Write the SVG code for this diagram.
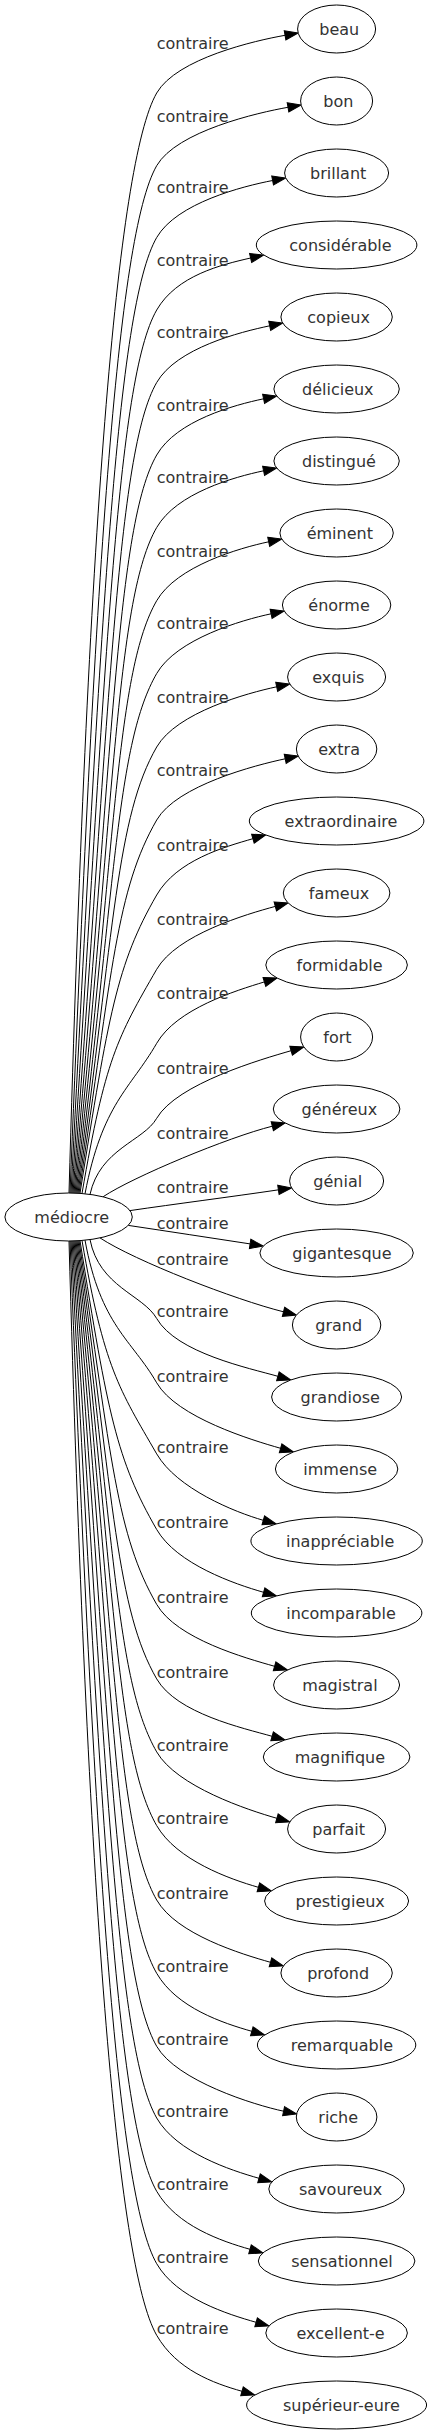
<svg xmlns="http://www.w3.org/2000/svg" width="432" height="2435" viewBox="0 0 432 2435">
<style>
.n ellipse{fill:#fff;stroke:#000;stroke-width:1}
text{font-family:"DejaVu Sans","Liberation Sans",sans-serif;font-size:16px;fill:#333}
#edges path{fill:none;stroke:#000;stroke-width:1;marker-end:url(#ah)}
</style>
<defs>
<marker id="ah" markerUnits="userSpaceOnUse" markerWidth="16" markerHeight="12" viewBox="0 0 16 12" refX="0" refY="6" orient="auto" overflow="visible">
<path d="M0,1.33 L13.3,6 L0,10.67 z" fill="#000" stroke="#000" stroke-width="1"/>
</marker>
</defs>
<rect width="432" height="2435" fill="#fff"/>
<g id="edges">
<path d="M69,1193.2 C87.5,533.1 116.7,162.3 156.7,93 C176.7,58.4 255.5,40.5 285.05,35.3"/>
<path d="M70,1193.2 C94.7,576.7 116.7,235 156.7,165.7 C176.7,131.1 258.45,112.5 288,107.3"/>
<path d="M71,1193.2 C100.8,619.8 116.7,306.8 156.7,237.5 C176.7,202.9 243.1,186.2 272.6,180.5"/>
<path d="M72,1193.2 C105.9,663.3 116.7,379.3 156.7,310 C176.7,275.4 221.4,264.7 250.6,258"/>
<path d="M73,1193.2 C110,706.8 116.7,451.8 156.7,382.5 C176.7,347.9 240.4,332 269.7,325.8"/>
<path d="M74,1193.2 C113,750.3 116.7,524.3 156.7,455 C176.7,420.4 234.3,405 263.6,398.8"/>
<path d="M75,1193.2 C114.9,793.8 116.7,596.8 156.7,527.5 C176.7,492.9 234.3,477 263.6,470.8"/>
<path d="M76,1193.2 C115.8,837.7 116.7,670 156.7,600.7 C176.7,566.1 239.4,548 268.7,541.8"/>
<path d="M77,1193.2 C115.7,881.4 116.7,742.8 156.7,673.5 C176.7,638.9 241.8,620 271.1,613.8"/>
<path d="M78,1193.2 C114.4,925.5 116.7,816.3 156.7,747 C176.7,712.4 247.4,693 276.7,686.8"/>
<path d="M79,1193.2 C112.1,969.3 116.7,889.3 156.7,820 C176.7,785.4 255.9,765 285.2,758.8"/>
<path d="M80,1193.2 C108.6,1014.3 116.7,964.3 156.7,895 C176.7,860.4 224.1,847 252.9,838.7"/>
<path d="M82,1193.5 C105.1,1059 117.45,1037.3 156.7,969.3 C176.7,934.7 246.3,914.2 275.3,906.4"/>
<path d="M85,1193.8 C102.2,1103.5 130.35,1088.9 156.7,1043.3 C176.7,1008.7 235.7,990.7 264.4,981.9"/>
<path d="M90,1194.4 C100,1148.7 143.4,1141.3 156.7,1118.3 C176.7,1083.7 262.3,1059 291.1,1050.7"/>
<path d="M103,1196.8 C133,1176.8 228.65,1137.1 272.3,1126.2"/>
<path d="M130,1210.6 C175,1204 230,1197 278.4,1189.85"/>
<path d="M128.3,1225.4 C170,1231.6 210,1237.8 250.1,1243.9"/>
<path d="M100,1237.9 C135,1260.9 235,1299.7 283.5,1311.8"/>
<path d="M90,1239.6 C99.3,1286.9 142.9,1294.6 156.7,1318.5 C176.7,1353.1 249.1,1368.1 277.9,1376.3"/>
<path d="M85,1240.2 C100.7,1325.8 131.75,1339.6 156.7,1382.8 C176.7,1417.4 251.8,1440.1 280.6,1448.3"/>
<path d="M82,1240.5 C104,1368.5 119.35,1389.2 156.7,1453.9 C176.7,1488.5 234.5,1512.1 263.3,1520.3"/>
<path d="M80,1240.8 C107.7,1414 116.7,1460.2 156.7,1529.5 C176.7,1564.1 234.8,1584.1 263.6,1592.3"/>
<path d="M79,1240.8 C111.3,1459 116.7,1535.1 156.7,1604.4 C176.7,1639 245.8,1658.1 274.6,1666.3"/>
<path d="M78,1240.8 C113.8,1503.7 116.7,1609.6 156.7,1678.9 C176.7,1713.5 243.2,1728.1 272.1,1736.3"/>
<path d="M77,1240.8 C115,1547.5 116.7,1682.6 156.7,1751.9 C176.7,1786.5 248.1,1810.1 276.9,1818.3"/>
<path d="M76,1240.8 C115.3,1591.7 116.7,1756.3 156.7,1825.6 C176.7,1860.2 229.6,1879.1 258.4,1887.3"/>
<path d="M75,1240.8 C114.6,1636.3 116.7,1830.7 156.7,1900 C176.7,1934.6 241.7,1954.1 270.5,1962.3"/>
<path d="M74,1240.8 C112.7,1680.3 116.7,1904 156.7,1973.3 C176.7,2007.9 223,2023.1 251.8,2031.3"/>
<path d="M73,1240.8 C109.7,1724.1 116.7,1977 156.7,2046.3 C176.7,2080.9 254.3,2105 283.6,2111.2"/>
<path d="M72,1240.8 C105.7,1767.1 116.7,2048.7 156.7,2118 C176.7,2152.6 230.1,2170.1 259,2178.3"/>
<path d="M71,1240.8 C100.7,1811.1 116.7,2122 156.7,2191.3 C176.7,2225.9 221.2,2241.1 250,2249.3"/>
<path d="M70,1240.8 C94.5,1854.5 116.7,2194.4 156.7,2263.7 C176.7,2298.3 227.3,2314.1 256.1,2322.3"/>
<path d="M69,1240.8 C87.4,1897.5 116.7,2266 156.7,2335.3 C176.7,2369.9 213.2,2383.1 242,2391.3"/>
<g id="edge-labels">
<text x="156.7" y="48.8">contraire</text>
<text x="156.7" y="121.5">contraire</text>
<text x="156.7" y="193.3">contraire</text>
<text x="156.7" y="265.8">contraire</text>
<text x="156.7" y="338.3">contraire</text>
<text x="156.7" y="410.8">contraire</text>
<text x="156.7" y="483.3">contraire</text>
<text x="156.7" y="556.5">contraire</text>
<text x="156.7" y="629.3">contraire</text>
<text x="156.7" y="702.8">contraire</text>
<text x="156.7" y="775.8">contraire</text>
<text x="156.7" y="850.8">contraire</text>
<text x="156.7" y="925.1">contraire</text>
<text x="156.7" y="999.1">contraire</text>
<text x="156.7" y="1074.1">contraire</text>
<text x="156.7" y="1139.1">contraire</text>
<text x="156.7" y="1192.5">contraire</text>
<text x="156.7" y="1229.1">contraire</text>
<text x="156.7" y="1265.3">contraire</text>
<text x="156.7" y="1317.3">contraire</text>
<text x="156.7" y="1381.6">contraire</text>
<text x="156.7" y="1452.7">contraire</text>
<text x="156.7" y="1528.3">contraire</text>
<text x="156.7" y="1603.2">contraire</text>
<text x="156.7" y="1677.7">contraire</text>
<text x="156.7" y="1750.7">contraire</text>
<text x="156.7" y="1824.4">contraire</text>
<text x="156.7" y="1898.8">contraire</text>
<text x="156.7" y="1972.1">contraire</text>
<text x="156.7" y="2045.1">contraire</text>
<text x="156.7" y="2116.8">contraire</text>
<text x="156.7" y="2190.1">contraire</text>
<text x="156.7" y="2262.5">contraire</text>
<text x="156.7" y="2334.1">contraire</text>
</g>
</g>
<g id="n-mediocre" class="n"><ellipse cx="68.6" cy="1217" rx="63.7" ry="24"/><text x="34.3" y="1223">médiocre</text></g>
<g id="n-beau" class="n"><ellipse cx="336.6" cy="29" rx="39" ry="24"/><text x="319.3" y="35">beau</text></g>
<g id="n-bon" class="n"><ellipse cx="336.6" cy="101" rx="36" ry="24"/><text x="323.3" y="107">bon</text></g>
<g id="n-brillant" class="n"><ellipse cx="336.6" cy="173" rx="52" ry="24"/><text x="310" y="179">brillant</text></g>
<g id="n-considerable" class="n"><ellipse cx="336.6" cy="245" rx="80.3" ry="24"/><text x="289.3" y="251">considérable</text></g>
<g id="n-copieux" class="n"><ellipse cx="336.6" cy="317" rx="55.7" ry="24"/><text x="307.3" y="323">copieux</text></g>
<g id="n-delicieux" class="n"><ellipse cx="336.6" cy="389" rx="62.7" ry="24"/><text x="302" y="395">délicieux</text></g>
<g id="n-distingue" class="n"><ellipse cx="336.6" cy="461" rx="62.7" ry="24"/><text x="302" y="467">distingué</text></g>
<g id="n-eminent" class="n"><ellipse cx="336.6" cy="533" rx="56.7" ry="24"/><text x="306.7" y="539">éminent</text></g>
<g id="n-enorme" class="n"><ellipse cx="336.6" cy="605" rx="54.2" ry="24"/><text x="308.3" y="611">énorme</text></g>
<g id="n-exquis" class="n"><ellipse cx="336.6" cy="677" rx="49" ry="24"/><text x="312.3" y="683">exquis</text></g>
<g id="n-extra" class="n"><ellipse cx="336.6" cy="749" rx="40.2" ry="24"/><text x="318.3" y="755">extra</text></g>
<g id="n-extraordinaire" class="n"><ellipse cx="336.6" cy="821" rx="87.3" ry="24"/><text x="284.6" y="827">extraordinaire</text></g>
<g id="n-fameux" class="n"><ellipse cx="336.6" cy="893" rx="53.3" ry="24"/><text x="308.8" y="899">fameux</text></g>
<g id="n-formidable" class="n"><ellipse cx="336.6" cy="965" rx="70.8" ry="24"/><text x="296.5" y="971">formidable</text></g>
<g id="n-fort" class="n"><ellipse cx="336.6" cy="1037" rx="36" ry="24"/><text x="323.3" y="1043">fort</text></g>
<g id="n-genereux" class="n"><ellipse cx="336.6" cy="1109" rx="63.3" ry="24"/><text x="301.5" y="1115">généreux</text></g>
<g id="n-genial" class="n"><ellipse cx="336.6" cy="1181" rx="47" ry="24"/><text x="313.3" y="1187">génial</text></g>
<g id="n-gigantesque" class="n"><ellipse cx="336.6" cy="1253" rx="76.7" ry="24"/><text x="292.3" y="1259">gigantesque</text></g>
<g id="n-grand" class="n"><ellipse cx="336.6" cy="1325" rx="44.2" ry="24"/><text x="315.3" y="1331">grand</text></g>
<g id="n-grandiose" class="n"><ellipse cx="336.6" cy="1397" rx="65" ry="24"/><text x="300.6" y="1403">grandiose</text></g>
<g id="n-immense" class="n"><ellipse cx="336.6" cy="1469" rx="61.2" ry="24"/><text x="303.3" y="1475">immense</text></g>
<g id="n-inappreciable" class="n"><ellipse cx="336.6" cy="1541" rx="85.7" ry="24"/><text x="286" y="1547">inappréciable</text></g>
<g id="n-incomparable" class="n"><ellipse cx="336.6" cy="1613" rx="85.3" ry="24"/><text x="286.2" y="1619">incomparable</text></g>
<g id="n-magistral" class="n"><ellipse cx="336.6" cy="1685" rx="63" ry="24"/><text x="302.2" y="1691">magistral</text></g>
<g id="n-magnifique" class="n"><ellipse cx="336.6" cy="1757" rx="73.3" ry="24"/><text x="294.7" y="1763">magnifique</text></g>
<g id="n-parfait" class="n"><ellipse cx="336.6" cy="1829" rx="49" ry="24"/><text x="312.3" y="1835">parfait</text></g>
<g id="n-prestigieux" class="n"><ellipse cx="336.6" cy="1901" rx="72" ry="24"/><text x="295.5" y="1907">prestigieux</text></g>
<g id="n-profond" class="n"><ellipse cx="336.6" cy="1973" rx="55.7" ry="24"/><text x="307.2" y="1979">profond</text></g>
<g id="n-remarquable" class="n"><ellipse cx="336.6" cy="2045" rx="79.2" ry="24"/><text x="290.7" y="2051">remarquable</text></g>
<g id="n-riche" class="n"><ellipse cx="336.6" cy="2117" rx="40.3" ry="24"/><text x="318.3" y="2123">riche</text></g>
<g id="n-savoureux" class="n"><ellipse cx="336.6" cy="2189" rx="67.8" ry="24"/><text x="299" y="2195">savoureux</text></g>
<g id="n-sensationnel" class="n"><ellipse cx="336.6" cy="2261" rx="78.3" ry="24"/><text x="291.2" y="2267">sensationnel</text></g>
<g id="n-excellent-e" class="n"><ellipse cx="336.6" cy="2333" rx="70.8" ry="24"/><text x="296.5" y="2339">excellent-e</text></g>
<g id="n-superieur-eure" class="n"><ellipse cx="336.6" cy="2405" rx="90" ry="24"/><text x="283" y="2411">supérieur-eure</text></g>
</svg>
